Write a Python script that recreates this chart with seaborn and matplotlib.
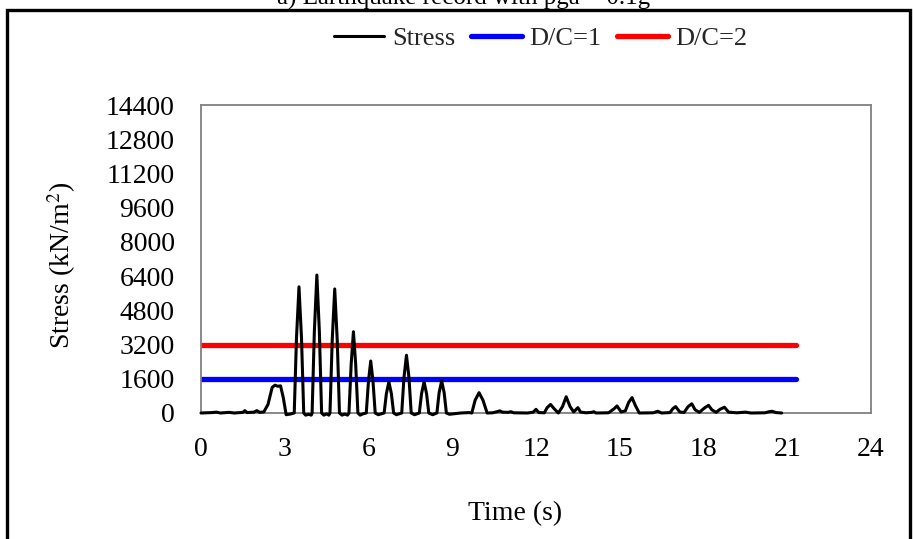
import matplotlib
matplotlib.use("Agg")
import matplotlib.pyplot as plt
import seaborn as sns
import pandas as pd
from matplotlib.patches import Rectangle

# ---- data ----
time_s = [0.0, 0.4, 0.55, 0.7, 1.0, 1.2, 1.5, 1.57, 1.65, 1.9, 2.0, 2.1, 2.25,
          2.4, 2.55, 2.65, 2.75, 2.85, 2.95, 3.05, 3.2,
          3.34, 3.42, 3.51, 3.60, 3.68, 3.75, 3.85, 3.95,
          3.98, 4.06, 4.15, 4.24, 4.32, 4.40, 4.50, 4.58,
          4.62, 4.70, 4.79, 4.88, 4.96, 5.05, 5.15, 5.25,
          5.30, 5.38, 5.46, 5.54, 5.62, 5.70, 5.80,
          5.92, 6.00, 6.08, 6.16, 6.24, 6.35,
          6.56, 6.64, 6.73, 6.82, 6.90, 7.00,
          7.19, 7.27, 7.36, 7.45, 7.53, 7.65,
          7.82, 7.90, 7.99, 8.08, 8.16, 8.30,
          8.45, 8.53, 8.62, 8.71, 8.79, 8.90, 9.30, 9.60,
          9.70, 9.82, 9.96, 10.10, 10.25,
          10.45, 10.6, 10.7, 10.8, 11.0, 11.1, 11.2, 11.7, 11.9, 12.0, 12.1,
          12.3, 12.4, 12.52, 12.65, 12.8, 12.95, 13.08, 13.22, 13.35, 13.5,
          13.6, 13.8, 14.0, 14.07, 14.15, 14.6, 14.8, 14.9, 15.05, 15.2,
          15.32, 15.44, 15.56, 15.7, 16.2, 16.36, 16.5, 16.8, 16.9, 17.0,
          17.15, 17.3, 17.45, 17.58, 17.7, 17.85, 18.05, 18.18, 18.3, 18.45,
          18.6, 18.75, 18.9, 19.2, 19.5, 19.7, 20.2, 20.35, 20.46, 20.6, 20.8]
stress = [0, 20, 40, 0, 30, 0, 30, 110, 20, 40, 110, 30, 50,
          400, 1200, 1300, 1250, 1270, 700, -80, -50,
          0, 3500, 5900, 3500, 0, -100, -60, -100,
          0, 3800, 6450, 3800, 0, -100, -40, -100,
          0, 3400, 5800, 3400, 0, -100, -50, -100,
          0, 2300, 3800, 2300, 0, -100, -40,
          0, 1500, 2430, 1500, 0, -80,
          0, 900, 1460, 900, 0, -80,
          0, 1650, 2700, 1650, 0, -80,
          0, 900, 1460, 900, 0, -80,
          0, 950, 1500, 950, 0, -60, 0, 20,
          0, 600, 950, 600, 0,
          10, 60, 100, 40, 30, 60, 10, 0, 40, 170, 20,
          10, 250, 400, 200, 0, 300, 760, 300, 50, 250,
          40, 10, 30, 60, 0, 10, 200, 330, 50, 100,
          500, 720, 350, 0, 10, 80, 0, 20, 200, 300,
          50, 20, 300, 430, 150, 30, 250, 360, 150, 30,
          180, 270, 40, 10, 40, 0, 10, 60, 80, 20, 0]
dc_time = [0.0, 21.3]
dc1_stress = [1600, 1600]
dc2_stress = [3200, 3200]
x_ticks = [0, 3, 6, 9, 12, 15, 18, 21, 24]
y_ticks = [0, 1600, 3200, 4800, 6400, 8000, 9600, 11200, 12800, 14400]
title = "a) Earthquake record with pga = 0.1g"

df_stress = pd.DataFrame({"t": time_s, "s": stress})
df_dc1 = pd.DataFrame({"t": dc_time, "s": dc1_stress})
df_dc2 = pd.DataFrame({"t": dc_time, "s": dc2_stress})

sns.set_theme(style="white")
plt.rcParams["font.family"] = ["Liberation Serif", "DejaVu Serif"]
plt.rcParams["mathtext.fontset"] = "stix"

FS = 20

fig = plt.figure(figsize=(9.13, 5.39), dpi=100)
ax = fig.add_axes([201/913, 1-413/539, 670/913, 308/539])

sns.lineplot(data=df_stress, x="t", y="s", ax=ax, color="black", lw=2.2,
             sort=False, estimator=None, label="Stress", zorder=3,
             clip_on=False)
sns.lineplot(data=df_dc1, x="t", y="s", ax=ax, color="#0000FF", lw=3.8,
             sort=False, estimator=None, label="D/C=1", zorder=2,
             solid_capstyle="round")
sns.lineplot(data=df_dc2, x="t", y="s", ax=ax, color="#FF0000", lw=3.8,
             sort=False, estimator=None, label="D/C=2", zorder=2,
             solid_capstyle="round")

ax.set_xlim(0, 24)
ax.set_ylim(0, 14400)
ax.set_xticks(x_ticks)
ax.set_yticks(y_ticks)
ax.set_xticklabels([str(v) for v in x_ticks])
ax.set_yticklabels([str(v) for v in y_ticks])
for sp in ax.spines.values():
    sp.set_color("#808080")
    sp.set_linewidth(1.3)
ax.tick_params(axis="both", which="major", direction="out", length=5,
               width=1.1, color="#808080", labelsize=FS, labelcolor="black")
ax.tick_params(axis="y", pad=14)
ax.tick_params(axis="x", pad=12)
ax.set_xlabel("Time (s)", fontsize=FS, color="black")
ax.set_ylabel("Stress (kN/m$^2$)", fontsize=FS, color="black")
ax.xaxis.set_label_coords(0.469, -0.285)
ax.yaxis.set_label_coords(-0.183, 0.48)
ax.grid(False)

leg = ax.legend(loc="center", bbox_to_anchor=(541/913, 1-38/539),
                bbox_transform=fig.transFigure, ncol=3, frameon=False,
                fontsize=19, handlelength=1.9, handletextpad=0.3,
                columnspacing=0.6)

fig.text(464/913, 1-5/539, title, ha="center", va="baseline", fontsize=18,
         color="black")
fig.patches.append(Rectangle((7/913, -0.1), (910-7)/913, 1.1-10/539,
                             transform=fig.transFigure, fill=False,
                             edgecolor="black", lw=2.4, zorder=0))

fig.savefig("out.png", dpi=100, facecolor="white")
